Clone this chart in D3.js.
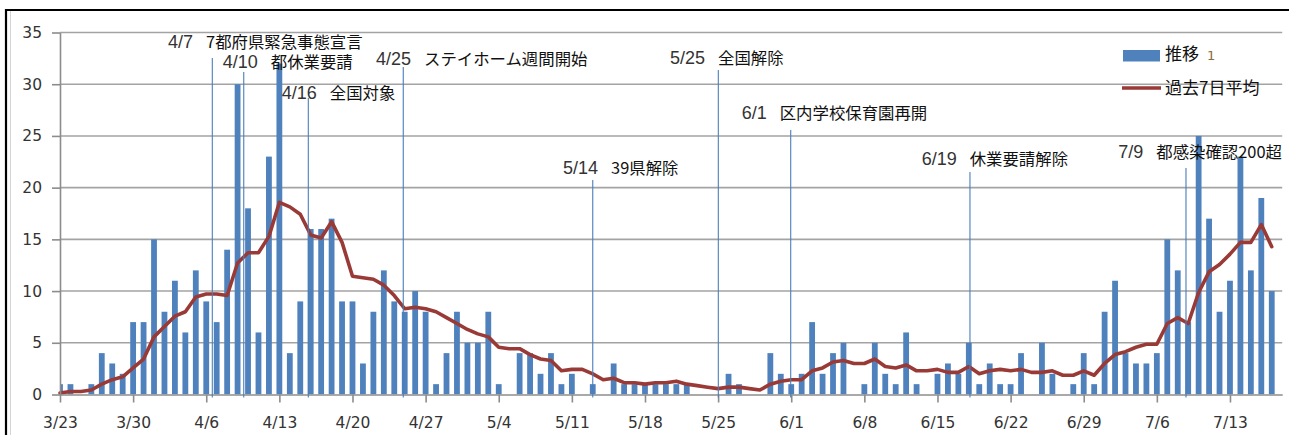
<!DOCTYPE html>
<html><head><meta charset="utf-8">
<script src="https://cdn.jsdelivr.net/npm/d3@7"></script>
<style>body{margin:0;background:#fff;} svg{display:block;}</style>
</head><body><svg id="c" width="1289" height="435"></svg>
<script>
// ---- data ----
const xTickLabels = ["3/23","3/30","4/6","4/13","4/20","4/27","5/4","5/11","5/18","5/25","6/1","6/8","6/15","6/22","6/29","7/6","7/13"];
const yTicks = [0,5,10,15,20,25,30,35];
// daily counts 3/23 .. 7/17
const cases = [1,1,0,1,4,3,2,7,7,15,
  8,11,6,12,9,7,14,30,18,6,
  23,32,4,9,16,16,17,9,9,3,
  8,12,9,8,10,8,1,4,8,5,
  5,8,1,0,4,4,2,4,1,2,
  0,1,0,3,1,1,1,1,1,1,
  1,0,0,0,2,1,0,0,4,2,
  1,2,7,2,4,5,0,1,5,2,
  1,6,1,0,2,3,2,5,1,3,
  1,1,4,0,5,2,0,1,4,1,
  8,11,4,3,3,4,15,12,7,25,
  17,8,11,23,12,19,10];
// past-7-day average line, 3/23 .. 7/17
const avg7 = [0.14,0.29,0.29,0.43,1.00,1.43,1.71,2.57,3.43,5.57,
  6.57,7.57,8.00,9.43,9.71,9.71,9.57,12.71,13.71,13.71,
  15.29,18.57,18.14,17.43,15.43,15.14,16.71,14.71,11.43,11.29,
  11.14,10.57,9.57,8.29,8.43,8.29,8.00,7.43,6.86,6.29,
  5.86,5.57,4.57,4.43,4.43,3.86,3.43,3.29,2.29,2.43,
  2.43,2.00,1.43,1.57,1.14,1.14,1.00,1.14,1.14,1.29,
  1.00,0.86,0.71,0.57,0.71,0.71,0.57,0.43,1.00,1.29,
  1.43,1.43,2.29,2.57,3.14,3.29,3.00,3.00,3.43,2.71,
  2.57,2.86,2.29,2.29,2.43,2.14,2.14,2.71,2.00,2.29,
  2.43,2.29,2.43,2.14,2.14,2.29,1.86,1.86,2.29,1.86,
  3.00,3.86,4.14,4.57,4.86,4.86,6.86,7.43,6.86,9.86,
  11.86,12.57,13.57,14.71,14.71,16.43,14.29];
const seriesNames = ["推移", "過去7日平均"];
const legendSuffix = "1";
// event markers: position in days from 3/23 (as drawn)
const annotations = [
  {date:"4/7",  text:"7都府県緊急事態宣言", at:14.58},
  {date:"4/10", text:"都休業要請", at:17.59},
  {date:"4/16", text:"全国対象", at:23.77},
  {date:"4/25", text:"ステイホーム週間開始", at:32.86},
  {date:"5/14", text:"39県解除", at:51.0},
  {date:"5/25", text:"全国解除", at:63.02},
  {date:"6/1",  text:"区内学校保育園再開", at:69.95},
  {date:"6/19", text:"休業要請解除", at:87.11},
  {date:"7/9",  text:"都感染確認200超", at:107.79}
];
// layout of the event labels (pixels)
const annoLayout = [
  {dx:-44.3, y:42.5, top:58},
  {dx:-21,   y:62.5, top:72},
  {dx:-26.6, y:93,   top:98},
  {dx:-27.3, y:59,   top:67},
  {dx:-29.7, y:168.5,top:180},
  {dx:-48.3, y:58.5, top:70},
  {dx:-49,   y:113,  top:130},
  {dx:-48.3, y:159,  top:172},
  {dx:-67.7, y:152.5,top:168}
];

// ---- chart ----
const svg = d3.select("#c");
const W = 1289, H = 435;
const x = d3.scaleLinear().domain([0, 117]).range([60, 1282.2]);
const y = d3.scaleLinear().domain([0, 35]).range([394.5, 32.5]);
const numFont = "'DejaVu Sans', sans-serif";
const jpFont = "'Noto Sans CJK JP', sans-serif";
const dateFont = "'Liberation Sans', Arial, sans-serif";
const barColor = "#4f81bd", lineColor = "#993a37", gridColor = "#a3a3a3";

svg.append("rect").attr("width", W).attr("height", H).attr("fill", "#fff");
// outer frame
svg.append("line").attr("x1", 5).attr("x2", W).attr("y1", 10).attr("y2", 10).attr("stroke", "#000").attr("stroke-width", 2.2);
svg.append("line").attr("x1", 6).attr("x2", 6).attr("y1", 9).attr("y2", H).attr("stroke", "#000").attr("stroke-width", 2.2);
svg.append("line").attr("x1", 10.5).attr("x2", 10.5).attr("y1", 11).attr("y2", H).attr("stroke", "#d4d4d4").attr("stroke-width", 1);

// gridlines
svg.append("g").selectAll("line").data(yTicks.filter(d => d > 0)).join("line")
  .attr("x1", x.range()[0]).attr("x2", x.range()[1])
  .attr("y1", d => y(d)).attr("y2", d => y(d))
  .attr("stroke", gridColor).attr("stroke-width", 1.6);

// bars
svg.append("defs").append("clipPath").attr("id", "plot").append("rect")
  .attr("x", x.range()[0]).attr("y", 0).attr("width", x.range()[1] - x.range()[0]).attr("height", y(0));
const bw = 5.8;
svg.append("g").attr("clip-path", "url(#plot)").selectAll("rect").data(cases).join("rect")
  .attr("x", (d, i) => x(i) - bw / 2).attr("width", bw)
  .attr("y", d => y(d)).attr("height", d => y(0) - y(d))
  .attr("fill", barColor);

// average line
svg.append("path").datum(avg7)
  .attr("d", d3.line().x((d, i) => x(i)).y(d => y(d)))
  .attr("fill", "none").attr("stroke", lineColor).attr("stroke-width", 3.6)
  .attr("stroke-linejoin", "round").attr("stroke-linecap", "round");

// axes
const xAxis = svg.append("g").attr("transform", `translate(0,${y(0)})`)
  .call(d3.axisBottom(x).tickValues(d3.range(0, 113, 7)).tickFormat((d, i) => xTickLabels[i]).tickSize(8).tickSizeOuter(0).tickPadding(14));
const yAxis = svg.append("g").attr("transform", `translate(${x.range()[0]},0)`)
  .call(d3.axisLeft(y).tickValues(yTicks).tickSize(8).tickSizeOuter(0).tickPadding(10));
[xAxis, yAxis].forEach(g => {
  g.select(".domain").attr("stroke", "#8c8c8c").attr("stroke-width", 1.6);
  g.selectAll(".tick line").attr("stroke", "#8c8c8c").attr("stroke-width", 1.6);
  g.selectAll(".tick text").attr("fill", "#333").style("font-family", numFont).style("font-size", "15.5px");
});

// event markers
const ag = svg.append("g");
annotations.forEach((a, i) => {
  const L = annoLayout[i];
  const lx = x(a.at);
  ag.append("line").attr("x1", lx).attr("x2", lx).attr("y1", L.top).attr("y2", 397.5)
    .attr("stroke", "#4a7ebb").attr("stroke-width", 1.1);
  const t = ag.append("text").attr("x", lx + L.dx).attr("y", L.y).attr("dy", "0.35em");
  t.append("tspan").text(a.date).attr("fill", "#333").style("font-family", dateFont).style("font-size", "18px");
  t.append("tspan").attr("dx", 13).text(a.text).attr("fill", "#111").style("font-family", jpFont).style("font-size", "16.4px");
});

// legend
const lg = svg.append("g");
lg.append("rect").attr("x", 1123).attr("y", 50).attr("width", 37).attr("height", 11.5).attr("fill", barColor);
const l1 = lg.append("text").attr("x", 1165).attr("y", 54).attr("dy", "0.35em");
l1.append("tspan").text(seriesNames[0]).attr("fill", "#111").style("font-family", jpFont).style("font-size", "17px");
l1.append("tspan").attr("dx", 8).text(legendSuffix).attr("fill", "#8a6a3a").style("font-family", numFont).style("font-size", "13px");
lg.append("line").attr("x1", 1122).attr("x2", 1161).attr("y1", 88).attr("y2", 88)
  .attr("stroke", lineColor).attr("stroke-width", 3.6);
lg.append("text").attr("x", 1165).attr("y", 88).attr("dy", "0.35em").text(seriesNames[1])
  .attr("fill", "#111").style("font-family", jpFont).style("font-size", "17px");
</script>
</body></html>
